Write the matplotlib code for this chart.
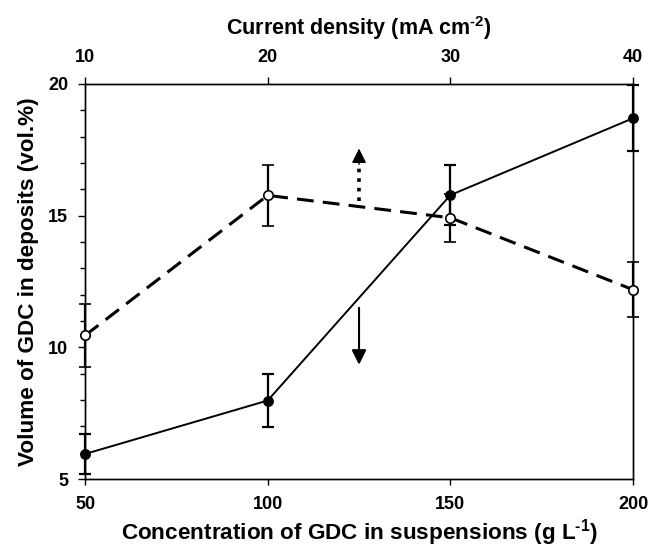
import matplotlib
matplotlib.use('Agg')
import matplotlib.pyplot as plt
from matplotlib.ticker import MultipleLocator

# data
conc = [50, 100, 150, 200]            # g L-1 (bottom axis)
vol_conc = [5.95, 7.98, 15.78, 18.70]  # filled circles, solid line
err_conc = [0.75, 1.00, 1.15, 1.25]

current = [10, 20, 30, 40]            # mA cm-2 (top axis)
vol_curr = [10.45, 15.77, 14.92, 12.19]  # open circles, dashed line
err_curr = [1.20, 1.15, 0.92, 1.05]

plt.rcParams['font.family'] = 'Liberation Sans'
plt.rcParams['font.weight'] = 'bold'
plt.rcParams['mathtext.fontset'] = 'custom'
plt.rcParams['mathtext.bf'] = 'Liberation Sans:bold'
plt.rcParams['mathtext.rm'] = 'Liberation Sans:bold'
plt.rcParams['mathtext.default'] = 'bf'

fig = plt.figure(figsize=(6.52, 5.49), dpi=100)
ax = fig.add_axes([0.1304, 0.1275, 0.8405, 0.7195])

ax.errorbar(conc, vol_conc, yerr=err_conc, color='black', lw=1.4,
            marker='o', ms=6.8, mfc='black', mec='black',
            elinewidth=1.6, capsize=4.5, capthick=1.6, clip_on=False, zorder=3)

ax.set_xlim(50, 200)
ax.set_ylim(5, 20)
ax.set_xticks(conc)
ax.set_yticks([5, 10, 15, 20])
ax.yaxis.set_minor_locator(MultipleLocator(1))
ax.tick_params(axis='y', which='major', direction='out', length=5, width=1, labelsize=13, pad=7)
ax.tick_params(axis='y', which='minor', direction='out', length=3.5, width=1)
ax.tick_params(axis='x', direction='out', length=4.5, width=1, labelsize=13, pad=8)
ax.set_xlabel(r'Concentration of GDC in suspensions (g L$^{\text{-1}}$)', fontsize=16.2, fontweight='bold', labelpad=3)
ax.set_ylabel('Volume of GDC in deposits (vol.%)', fontsize=16.2, fontweight='bold', labelpad=7)

ax2 = ax.twiny()
eb = ax2.errorbar(current, vol_curr, yerr=err_curr, color='black', lw=2.2,
                  marker='o', ms=6.8, mfc='white', mec='black', mew=1.2,
                  elinewidth=1.6, capsize=4.5, capthick=1.6, clip_on=False, zorder=3)
eb[0].set_linestyle((0, (5.5, 3)))
ax2.set_xlim(10, 40)
ax2.set_ylim(5, 20)
ax2.set_xticks(current)
ax2.tick_params(axis='x', direction='out', length=5, width=1, labelsize=13, pad=8)
ax2.set_xlabel(r'Current density (mA cm$^{\text{-2}}$)', fontsize=15.5, fontweight='bold', labelpad=10)

for a in (ax, ax2):
    for s in a.spines.values():
        s.set_linewidth(1)

# arrows pointing to the relevant axis
ax.plot([125, 125], [15.56, 17.0], ls=':', lw=2.6, color='black')
ax.annotate('', xy=(125, 17.55), xytext=(125, 16.95),
            arrowprops=dict(arrowstyle='-|>', lw=1.0, color='black',
                            mutation_scale=22, shrinkA=0, shrinkB=0))
ax.annotate('', xy=(125, 9.34), xytext=(125, 11.5),
            arrowprops=dict(arrowstyle='-|>', lw=1.5, color='black',
                            mutation_scale=22, shrinkA=0, shrinkB=0))

fig.savefig('out.png', dpi=100)
